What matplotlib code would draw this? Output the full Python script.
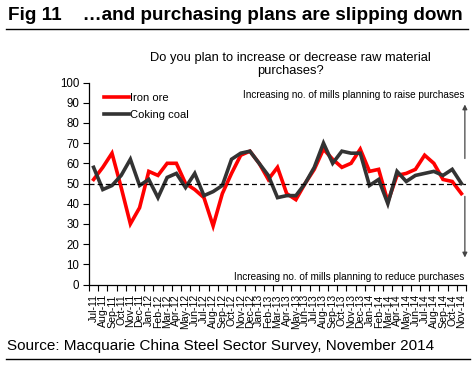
import matplotlib
matplotlib.use("Agg")
import matplotlib.pyplot as plt
from matplotlib.lines import Line2D

plt.rcParams['font.family'] = ['Liberation Sans', 'DejaVu Sans']

months = ["Jul-11", "Aug-11", "Sep-11", "Oct-11", "Nov-11", "Dec-11",
          "Jan-12", "Feb-12", "Mar-12", "Apr-12", "May-12", "Jun-12", "Jul-12", "Aug-12",
          "Sep-12", "Oct-12", "Nov-12", "Dec-12",
          "Jan-13", "Feb-13", "Mar-13", "Apr-13", "May-13", "Jun-13", "Jul-13", "Aug-13",
          "Sep-13", "Oct-13", "Nov-13", "Dec-13",
          "Jan-14", "Feb-14", "Mar-14", "Apr-14", "May-14", "Jun-14", "Jul-14", "Aug-14",
          "Sep-14", "Oct-14", "Nov-14"]

iron_ore = [52, 58, 65, 48, 30, 38, 56, 54, 60, 60, 50, 47, 43, 29, 45, 55, 64, 66,
            60, 52, 58, 45, 42, 50, 57, 67, 62, 58, 60, 67, 56, 57, 41, 54, 55, 57,
            64, 60, 52, 51, 45]
coking_coal = [58, 47, 49, 54, 62, 49, 52, 43, 53, 55, 48, 55, 44, 46, 49, 62, 65, 66,
               60, 54, 43, 44, 44, 50, 58, 70, 60, 66, 65, 65, 49, 52, 40, 56, 51, 54,
               55, 56, 54, 57, 50]

yticks = list(range(0, 101, 10))

fig = plt.figure(figsize=(4.75, 3.67), dpi=100)
W, H = 475, 367

ax = fig.add_axes([89 / W, 1 - 284.5 / H, 377 / W, 202 / H])
x = list(range(len(months)))
ax.plot(x, iron_ore, color='#ff0000', lw=2.6, label='Iron ore', solid_joinstyle='miter')
ax.plot(x, coking_coal, color='#333333', lw=2.6, label='Coking coal', solid_joinstyle='miter')
ax.axhline(50, color='black', lw=0.9, ls=(0, (4, 2.5)))

ax.set_xlim(-0.5, len(months) - 0.5)
ax.set_ylim(0, 100)
ax.set_yticks(yticks)
ax.set_yticklabels([str(v) for v in yticks], fontsize=8.3)
ax.set_xticks(x)
ax.set_xticklabels(months, rotation=90, fontsize=7.6)
ax.set_xticks([i - 0.5 for i in range(len(months) + 1)], minor=True)
ax.tick_params(axis='x', which='major', length=0, pad=7)
ax.tick_params(axis='x', which='minor', length=4, width=0.8, direction='out')
ax.tick_params(axis='y', length=4, width=0.8, direction='out', pad=3)
for s in ['top', 'right']:
    ax.spines[s].set_visible(False)
for s in ['left', 'bottom']:
    ax.spines[s].set_linewidth(0.9)

leg = ax.legend(loc='upper left', bbox_to_anchor=(0.019, 0.985), frameon=False,
                fontsize=8, handlelength=2.25, handletextpad=0.1, labelspacing=0.6,
                borderaxespad=0.3)

ax.text(0.995, 0.94, "Increasing no. of mills planning to raise purchases",
        transform=ax.transAxes, ha='right', va='center', fontsize=7.2)
ax.text(0.995, 0.035, "Increasing no. of mills planning to reduce purchases",
        transform=ax.transAxes, ha='right', va='center', fontsize=7.2)

ax.annotate('', xy=(0.997, 0.905), xytext=(0.997, 0.61), xycoords='axes fraction',
            arrowprops=dict(arrowstyle='-|>', color='#444444', lw=0.9,
                            mutation_scale=7))
ax.annotate('', xy=(0.997, 0.12), xytext=(0.997, 0.45), xycoords='axes fraction',
            arrowprops=dict(arrowstyle='-|>', color='#444444', lw=0.9,
                            mutation_scale=7))

fig.text(290 / W, 1 - 64.5 / H,
         "Do you plan to increase or decrease raw material\npurchases?",
         ha='center', va='center', fontsize=9.3, linespacing=1.1)

fig.text(8 / W, 1 - 15 / H, "Fig 11    \u2026and purchasing plans are slipping down",
         ha='left', va='center', fontsize=13.6, fontweight='bold')
fig.add_artist(Line2D([6 / W, 468 / W], [1 - 29 / H, 1 - 29 / H], color='black', lw=1.0))

fig.text(7 / W, 1 - 346 / H, "Source: Macquarie China Steel Sector Survey, November 2014",
         ha='left', va='center', fontsize=11)
fig.add_artist(Line2D([6 / W, 470 / W], [1 - 359 / H, 1 - 359 / H], color='black', lw=1.0))

fig.savefig('out.png', dpi=100)
